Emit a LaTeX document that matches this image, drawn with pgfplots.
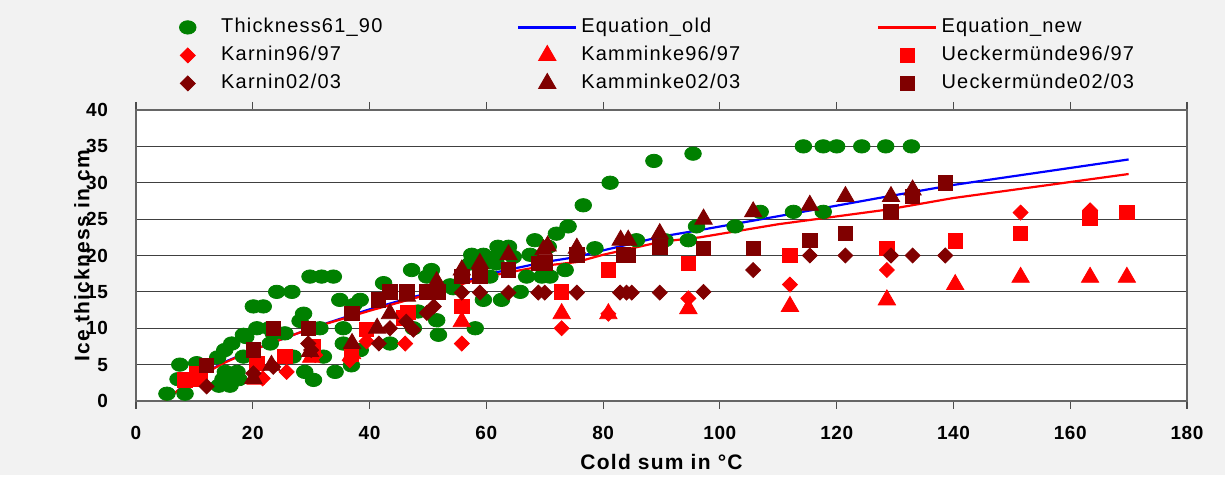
\documentclass[border=0pt]{standalone}
\usepackage{fontspec}
\setmainfont{Liberation Sans}[LetterSpace=6]
\newfontfamily\tickfont{Liberation Sans}[LetterSpace=3]
\usepackage{pgfplots}
\pgfplotsset{compat=1.18}
\definecolor{cgreen}{RGB}{0,128,0}
\definecolor{cred}{RGB}{255,0,0}
\definecolor{cdark}{RGB}{128,0,0}
\definecolor{cblue}{RGB}{0,0,255}
\definecolor{bgg}{RGB}{242,242,242}
\pgfplotsset{myleg/.style={legend image code/.code={\path (0pt,-3pt) (29pt,3pt);\draw[mark repeat=2,mark phase=2,##1] plot coordinates {(0pt,0pt)(14.5pt,0pt)(29pt,0pt)};}}}
\begin{document}
\begin{tikzpicture}
\fill[bgg] (-68pt,-37pt) rectangle (544.5pt,200.5pt);
\begin{axis}[at={(0pt,0pt)}, anchor=south west, scale only axis,
  width=525.5pt, height=145.5pt,
  xmin=0, xmax=180, ymin=0, ymax=40,
  xtick={0,20,...,180}, ytick={0,5,...,40},
  ymajorgrids, grid style={black!75, line width=0.5pt},
  axis background/.style={fill=white},
  axis line style={black!60, line width=1pt},
  tick align=outside, ytick style={draw=none},
  xtick style={black!70, line width=0.6pt}, major tick length=4pt,
  ticklabel style={font=\tickfont\bfseries\fontsize{9.5}{11}\selectfont},
  /pgf/number format/assume math mode=true,
  xticklabel style={yshift=-5pt}, yticklabel style={anchor=east, xshift=-6.5pt},
  xlabel={Cold sum in °C}, ylabel={Ice thickness in cm},
  label style={font=\bfseries\fontsize{10.5}{12}\selectfont},
  xlabel style={at={(axis description cs:0.5,-0.2096)}, anchor=center},
  ylabel style={at={(axis description cs:-0.0514,0.5)}, anchor=center},
  legend columns=3, legend cell align=left,
  legend style={at={(axis description cs:0.0152,1.347)}, anchor=north west,
    draw=none, fill=none, font=\fontsize{10}{12}\selectfont,
    nodes={inner sep=2pt, text height=7.5pt, text depth=2.5pt},
    row sep=0pt, column sep=0pt},
]
\addplot[only marks, myleg, mark=*, color=cgreen, mark size=3.35pt, mark options={xscale=1.24}] coordinates {
(5.3,1) (8.4,1) (7.5,5) (7.2,3) (10.4,5.2) (10.5,3.5) (14,6) (15.2,7) (16.4,7.9) (14.2,2.1) (16.1,2.1) (15.3,4) (17.3,4) (17.6,3) (14.9,3) (18.4,9.1) (18.4,6.1) (18.8,8.8) (20.1,13) (21.8,13) (20.7,10) (22.8,10) (23,7.9) (23.5,9.3) (24.1,15) (26.7,15) (25.5,9.3) (26.9,6.1) (28.7,12) (28.1,11) (28.9,4) (30.4,2.9) (29.8,17.1) (31.8,17.1) (33.8,17.1) (31.5,10) (32.1,6.1) (34.1,4) (34.9,13.9) (35.5,10) (35.5,7.9) (38.4,13.9) (37.3,13.2) (36.9,4.9) (38.4,7) (42.4,16.2) (43.5,7.9) (47.2,18) (49.8,17.1) (50.6,18) (47.5,10) (48.3,12.3) (51.5,11.1) (51.8,9.1) (53.8,15.9) (54.3,15.5) (58.1,10) (57.5,20.1) (59.5,20.1) (57.2,18.9) (60.3,19.1) (61.7,18.9) (59.5,13.9) (62.6,13.9) (60.6,17.1) (62,21.2) (63.8,21.2) (61.9,20) (64.6,19.8) (65.8,15) (66.9,17.1) (67.5,20.1) (68.3,22.1) (69.5,17.1) (70.9,17.1) (70.6,21.2) (72,23) (73.5,18) (74,24) (76.6,26.9) (78.6,21) (81.2,30) (85.7,22.1) (88.7,33) (90.6,22.1) (94.6,22.1) (95.4,34) (96,24) (102.6,24) (106.9,26) (112.6,26) (117.7,26) (114.3,35) (117.7,35) (120,35) (124.3,35) (128.4,35) (132.8,35)
};
\addlegendentry{\makebox[146pt][l]{Thickness61\_90}}
\addplot[myleg, color=cblue, line width=1.1pt, no marks] coordinates {
(5,0) (8,2) (10,3) (15,5.3) (20,7) (30,10) (40,12.6) (47.5,14.3) (50,14.8) (60,17.4) (70,19.1) (75.5,19.8) (80,20.7) (90,22.6) (96.6,23.5) (110,25.4) (128.6,28.1) (140,29.7) (170,33.2)
};
\addlegendentry{\makebox[146pt][l]{Equation\_old}}
\addplot[myleg, color=cred, line width=1.1pt, no marks] coordinates {
(5,0) (8,2) (10,3) (15,5.2) (20,7) (30,10) (40,12.4) (47.5,14.1) (50,14.6) (60,17.1) (70,18.6) (75.5,19.1) (80,20.1) (90,21.9) (96.6,22.5) (110,24.3) (128.6,26.3) (140,27.9) (170,31.2)
};
\addlegendentry{Equation\_new}
\addplot[only marks, myleg, mark=square*, color=cred, mark size=2.65pt, mark options={rotate=45}] coordinates {
(21.7,3.1) (25.8,4) (30.7,6.3) (36.6,5.6) (39.5,8.2) (46.1,7.9) (55.8,7.9) (72.9,10) (80.9,12) (94.6,14.1) (112,16) (128.6,18) (151.5,25.9) (163.4,26.2)
};
\addlegendentry{\makebox[146pt][l]{Karnin96/97}}
\addplot[only marks, myleg, mark=triangle*, color=cred, mark size=5pt] coordinates {
(20.5,3) (30,6) (37,6.5) (55.8,10.9) (72.9,12) (80.9,12) (94.6,12.7) (112,13) (128.6,13.9) (140.3,16) (151.5,17) (163.4,17) (169.7,17)
};
\addlegendentry{\makebox[146pt][l]{Kamminke96/97}}
\addplot[only marks, myleg, mark=square*, color=cred, mark size=3.6pt] coordinates {
(8.4,2.9) (10.4,3.8) (11,3) (20.7,5.2) (25.5,6.1) (30.4,7.5) (36.9,6.5) (39.5,9.8) (45.8,11.4) (46.6,12.2) (55.8,13) (72.9,15) (80.9,18) (94.6,18.9) (112,20) (128.6,21) (140.3,22) (151.5,23) (163.4,25.1) (169.7,25.9)
};
\addlegendentry{Ueckermünde96/97}
\addplot[only marks, myleg, mark=square*, color=cdark, mark size=2.65pt, mark options={rotate=45}] coordinates {
(12.1,2) (20.1,3.8) (23.5,4.7) (29.5,7.9) (30,7) (41.6,7.9) (43.5,10) (46.3,10.9) (47.5,9.8) (49.8,12.1) (51,13) (55.8,14.9) (58.9,14.9) (63.8,14.9) (68.9,14.9) (70,14.9) (75.5,14.9) (82.9,14.9) (84,14.9) (84.9,14.9) (89.7,14.9) (97.2,15) (105.7,18) (115.4,20) (121.5,20) (129.3,20) (133,20) (138.6,20)
};
\addlegendentry{\makebox[146pt][l]{Karnin02/03}}
\addplot[only marks, myleg, mark=triangle*, color=cdark, mark size=5pt] coordinates {
(20.1,3.1) (23.2,4.9) (29.8,6.8) (37,7.9) (41.3,10) (43.5,12) (46.4,14.4) (51.5,16.4) (55.8,18) (58.9,18.9) (63.8,20.1) (69.8,20.8) (70.5,21.3) (75.5,21) (83,22.1) (84.3,22.1) (89.7,23) (97.2,25) (105.7,26) (115.4,26.9) (121.5,28.1) (129.3,28.1) (133,29)
};
\addlegendentry{\makebox[146pt][l]{Kamminke02/03}}
\addplot[only marks, myleg, mark=square*, color=cdark, mark size=3.6pt] coordinates {
(12.1,4.9) (20.1,7) (23.5,10) (29.5,10) (37,12) (41.5,13.9) (43.5,15) (46.4,15) (49.8,15) (51.8,15) (55.8,17.1) (58.9,17.1) (63.8,18) (68.9,18.9) (70,19) (75.5,20.1) (83.5,20.1) (84.3,20) (89.7,21.2) (97.2,21) (105.7,21) (115.4,22.1) (121.5,23) (129.3,26) (133,28.1) (138.6,30)
};
\addlegendentry{Ueckermünde02/03}
\end{axis}
\end{tikzpicture}
\end{document}
